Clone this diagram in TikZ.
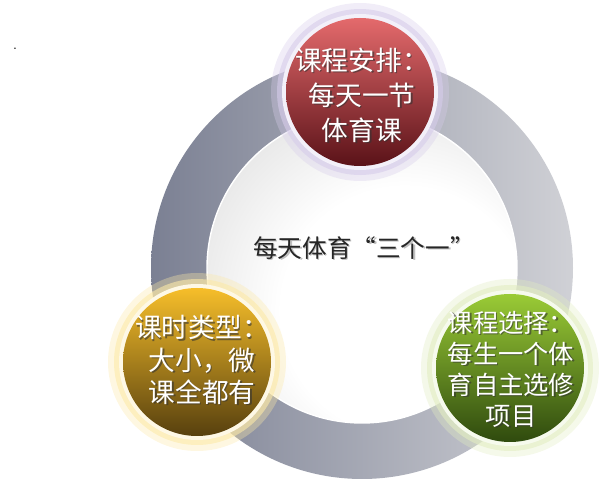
\documentclass[tikz,border=0pt]{standalone}
\usepackage{fontspec}
\newfontfamily\cjk{Noto Sans CJK SC}
\usepackage{tikz}
\usetikzlibrary{calc}
\usepackage{xcolor}
\definecolor{ringdark}{HTML}{7B8093}
\definecolor{ringmid}{HTML}{A2A5B2}
\definecolor{ringlight}{HTML}{D0D1D6}
\definecolor{hubgray}{HTML}{B8B8B8}
\definecolor{redtop}{HTML}{E46A6C}
\definecolor{redmid}{HTML}{BC262C}
\definecolor{redbot}{HTML}{5A1218}
\definecolor{redglow}{HTML}{D6CCEA}
\definecolor{yeltop}{HTML}{F6BE2A}
\definecolor{yelmid}{HTML}{C99818}
\definecolor{yelbot}{HTML}{57400E}
\definecolor{yelglow}{HTML}{FCE9A8}
\definecolor{grntop}{HTML}{9ACB36}
\definecolor{grnmid}{HTML}{6D9A20}
\definecolor{grnbot}{HTML}{2F4A0E}
\definecolor{grnglow}{HTML}{E2EDC2}
\pgfdeclareradialshading{hubshade}{\pgfpoint{10bp}{-10bp}}{color(0bp)=(white); color(20bp)=(white); color(48bp)=(hubgray!70); color(65bp)=(hubgray)}
\tikzset{
  ring/.style    = {left color=ringdark, middle color=ringmid, right color=ringlight},
  hub/.style     = {shading=hubshade, draw=white, line width=1pt},
  lbl/.style     = {text=white, align=center, inner sep=0pt},
  hubtxt/.style  = {text=black!85, font=\cjk\fontsize{17.5}{20}\selectfont},
}
\newcommand{\badge}[6]{%
  \coordinate (#1) at (#2);
  \fill[#3, opacity=0.35] (#1) circle (89);
  \fill[#3, opacity=0.6] (#1) circle (83);
  \fill[white!70!#3] (#1) circle (78);
  \shade[top color=#4, middle color=#5, bottom color=#6] (#1) circle (74);
}
\newcommand{\badgetext}[5]{%
  \node[lbl, text=black!80, opacity=0.6, font=\cjk\fontsize{#3}{#4}\selectfont]
    (#1shadow) at ($(#2)+(1.5,-1.5)$) {#5};
  \node[lbl, font=\cjk\fontsize{#3}{#4}\selectfont] (#1) at (#2) {#5};
}

\begin{document}
\begin{tikzpicture}[x=0.025cm, y=0.025cm]
\useasboundingbox (0,0) rectangle (600,480);
\node[anchor=base, inner sep=0pt] (dot) at (15,430) {.};
% ring and hub
\coordinate (c) at (362,212);
\shade[ring] (c) circle (211);
\shadedraw[hub] (c) circle (155);
\node[hubtxt, text=black!25] (titleshadow) at (365.5,230.5) {每天体育“三个一”};
\node[hubtxt] (title) at (364,232) {每天体育“三个一”};
% three badges
\badge{plan}{360,388}{redglow}{redtop}{redmid}{redbot}
\badgetext{plantxt}{362,385}{19}{25}{课程安排：\\每天一节\\体育课}
\badge{kind}{197,118}{yelglow}{yeltop}{yelmid}{yelbot}
\badgetext{kindtxt}{202,120}{19}{23}{课时类型：\\大小，微\\课全都有}
\badge{pick}{510,112}{grnglow}{grntop}{grnmid}{grnbot}
\badgetext{picktxt}{511,111}{18}{22}{课程选择：\\每生一个体\\育自主选修\\项目}
\end{tikzpicture}
\end{document}
